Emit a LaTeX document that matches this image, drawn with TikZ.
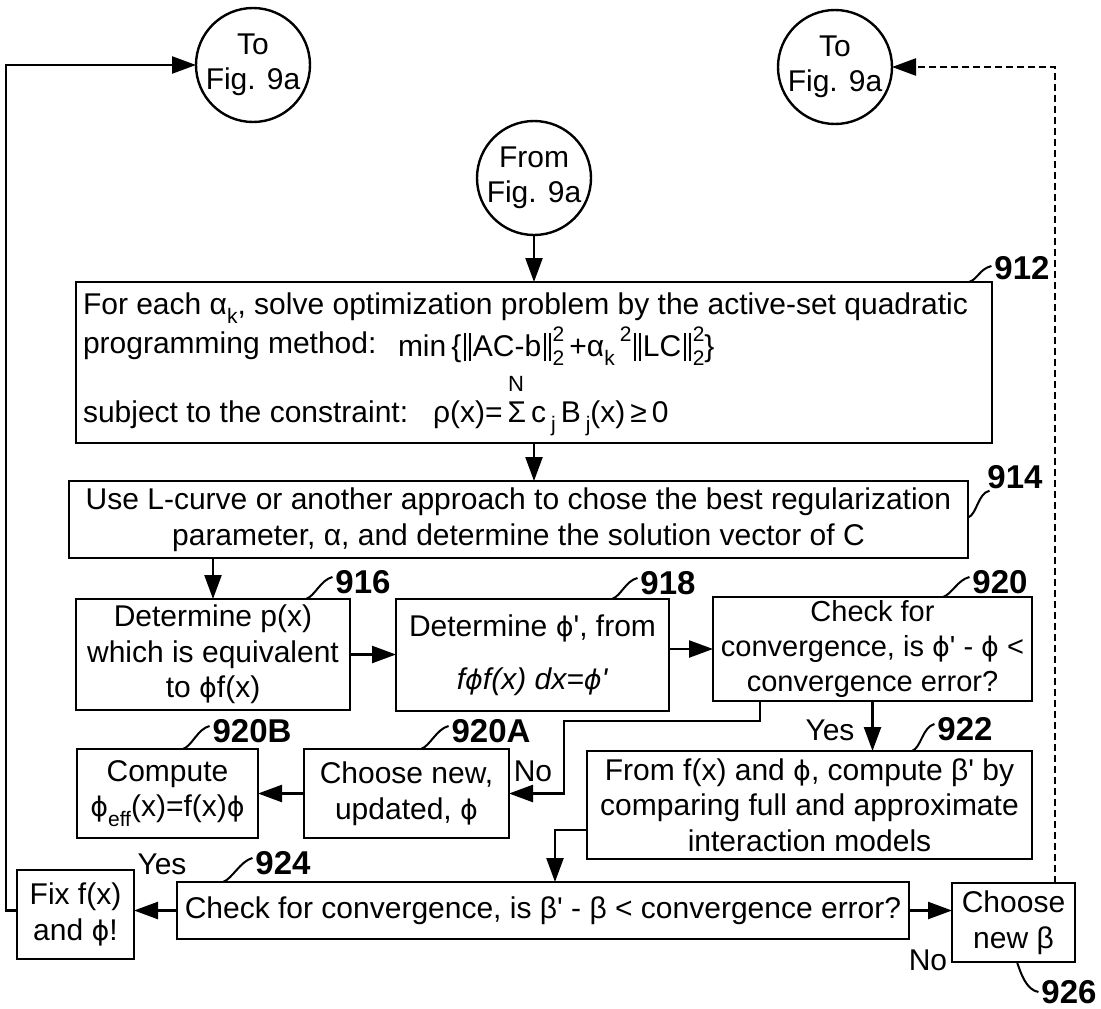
\documentclass[tikz,border=0pt]{standalone}
\usepackage{fontspec}
\setmainfont[Ligatures=TeXOff]{Liberation Sans}
\newfontfamily\djv{DejaVu Sans}
\usetikzlibrary{arrows.meta,calc}
\newcommand\fsz{\fontsize{30}{35.5}\selectfont}
\newcommand\phy{{\djv\fontsize{27}{27}\selectfont ϕ}}
\newcommand\sbs[1]{\raisebox{-0.32em}{\fontsize{21}{21}\selectfont #1}}
\newcommand\sps[1]{\raisebox{0.5em}{\fontsize{21}{21}\selectfont #1}}
\newcommand\supsub[2]{\rlap{\sps{#1}}\sbs{#2}}
\newcommand\dbar{\kern3pt\rule[-0.18em]{2pt}{0.95em}\kern2.5pt\rule[-0.18em]{2pt}{0.95em}\kern2pt}
\begin{document}
\begin{tikzpicture}[x=1pt,y=-1pt,line width=2.4pt,
  every node/.style={inner sep=0pt,outer sep=0pt},
  box/.style={draw,rectangle,align=center,font=\fsz},
  circ/.style={draw,circle,minimum size=114pt,align=center,font=\fsz},
  arr/.style={-{Triangle[length=24pt,width=17pt]}},
  lab/.style={font=\fontsize{33}{33}\selectfont\bfseries},
  txt/.style={font=\fsz},
  sq/.style={line width=2pt},
  sqg/.style={to path={.. controls +(9,-3) and +(-12,3) .. (\tikztotarget)}},
  sqd/.style={to path={.. controls +(4,12) and +(-12,-2) .. (\tikztotarget)}},
  dsh/.style={dash pattern=on 7pt off 4pt}]
\useasboundingbox (0,0) rectangle (1101,1009);

% connector circles
\node[circ] (cL) at (253,65) {To\\Fig. 9a};
\node[circ] (cR) at (835,67) {To\\Fig. 9a};
\node[circ] (cF) at (534,178) {From\\Fig. 9a};

% box 912
\node[draw,rectangle,minimum width=916pt,minimum height=161pt] (c912) at (534,362.5) {};
\node[txt,anchor=base west] (t912a) at (83,314) {For each α\sbs{k}, solve optimization problem by the active-set quadratic};
\node[txt,anchor=base west] (t912b) at (83,353) {programming method:};
\node[txt,anchor=base west] (t912c) at (398,356) {min\,\{\dbar AC-b\dbar\supsub{2}{2}\,+α\sbs{k}\,\sps{2}\dbar LC\dbar\supsub{2}{2}\}};
\node[txt,anchor=base west] (t912d) at (83,422) {subject to the constraint:};
\node[txt,anchor=base west] (t912e) at (433,422) {ρ(x)=\,Σ\,c\,\sbs{j}\,B\,\sbs{j}(x)\,≥\,0};
\node[font=\fontsize{22}{22}\selectfont] (nN) at (516,384) {N};

% other boxes
\node[box,minimum width=899pt,minimum height=77pt] (c914) at (518.5,519.5)
  {Use L-curve or another approach to chose the best regularization\\parameter, α, and determine the solution vector of C};
\node[box,minimum width=274pt,minimum height=111pt] (b916) at (213,654.5)
  {Determine p(x)\\which is equivalent\\to \phy f(x)};
\node[box,minimum width=273pt,minimum height=112pt] (b918) at (532.5,655)
  {Determine \phy', from\\[18pt]\textit{f\phy f(x) dx=\phy'}};
\node[box,minimum width=319pt,minimum height=104pt,font=\fontsize{29}{35}\selectfont] (b920) at (872.5,649)
  {Check for\\convergence, is \phy' - \phy\ <\\convergence error?};
\node[box,minimum width=445pt,minimum height=108pt] (b922) at (809.5,805)
  {From f(x) and \phy, compute β' by\\comparing full and approximate\\interaction models};
\node[box,minimum width=205pt,minimum height=89pt] (b920A) at (406.5,793.5)
  {Choose new,\\updated, \phy};
\node[box,minimum width=181pt,minimum height=89pt] (b920B) at (167.5,793.5)
  {Compute\\\phy\sbs{eff}(x)=f(x)\phy};
\node[box,minimum width=732pt,minimum height=57pt] (b924) at (543,910.5)
  {Check for convergence, is β' - β < convergence error?};
\node[box,minimum width=117pt,minimum height=89pt] (bfix) at (75.5,914.5)
  {Fix f(x)\\and \phy!};
\node[box,minimum width=123pt,minimum height=79pt] (bchoose) at (1013.5,922.5)
  {Choose\\new β};

% reference labels
\node[lab] (l912) at (1022,268) {912};
\node[lab] (l914) at (1015,477) {914};
\node[lab] (l916) at (363,582) {916};
\node[lab] (l918) at (668,583) {918};
\node[lab] (l920) at (1000,582) {920};
\node[lab] (l922) at (965,729) {922};
\node[lab] (l920A) at (491,731) {920A};
\node[lab] (l920B) at (252,731) {920B};
\node[lab] (l924) at (283,863) {924};
\node[lab] (l926) at (1069,992) {926};

% yes / no
\node[txt] (yes1) at (830,730) {Yes};
\node[txt] (no1) at (533,771) {No};
\node[txt] (yes2) at (162,864) {Yes};
\node[txt] (no2) at (928,960) {No};

% connectors
\draw[arr] (cF.south) -- (cF.south |- c912.north);
\draw[arr] (c912.south) -- (c912.south |- c914.north);
\draw[arr] (b916.north |- c914.south) -- (b916.north);
\draw[arr] (b916.east) -- (b916.east -| b918.west);
\draw[arr] (b918.east |- b920.west) -- (b920.west);
\draw[arr] (b920.south) -- (b920.south |- b922.north);
\draw[arr] ($(b920.south west)+(47,0)$) -- ++(0,20) -| ($(b920A.east)+(55,0)$) -- (b920A.east);
\draw[arr] (b920A.west) -- (b920B.east);
\draw[arr] ($(b922.south west)+(0,-29)$) -| ($(b924.north west)+(378,0)$);
\draw[arr] (b924.west) -- (b924.west -| bfix.east);
\draw[arr] (b924.east) -- (b924.east -| bchoose.west);
\draw[arr] (b924.west -| bfix.west) -- ++(-11,0) |- (cL.west);
\draw[arr,dsh] ($(bchoose.north west)+(103,0)$) |- (cR.east);

% squiggles
\draw[sq] ($(c912.north west)+(893,0)$) to[sqg] ($(l912.west)+(-3,-2)$);
\draw[sq] ($(c914.east)+(0,-2)$) to[sqg] ($(l914.south west)+(2,2)$);
\draw[sq] ($(b916.north west)+(230,0)$) to[sqg] ($(l916.west)+(-3,-5)$);
\draw[sq] ($(b918.north west)+(216,0)$) to[sqg] ($(l918.west)+(-3,-5)$);
\draw[sq] ($(b920.north west)+(230,0)$) to[sqg] ($(l920.west)+(-3,-5)$);
\draw[sq] ($(b922.north west)+(325,0)$) to[sqg] ($(l922.west)+(-3,-5)$);
\draw[sq] ($(b920A.north west)+(117,0)$) to[sqg] ($(l920A.west)+(-3,-5)$);
\draw[sq] ($(b920B.north west)+(106,0)$) to[sqg] ($(l920B.west)+(-3,-5)$);
\draw[sq] ($(b924.north west)+(46,0)$) to[sqg] ($(l924.west)+(-3,-5)$);
\draw[sq] ($(bchoose.south west)+(65,0)$) to[sqd] ($(l926.west)+(-3,0)$);
\end{tikzpicture}
\end{document}
